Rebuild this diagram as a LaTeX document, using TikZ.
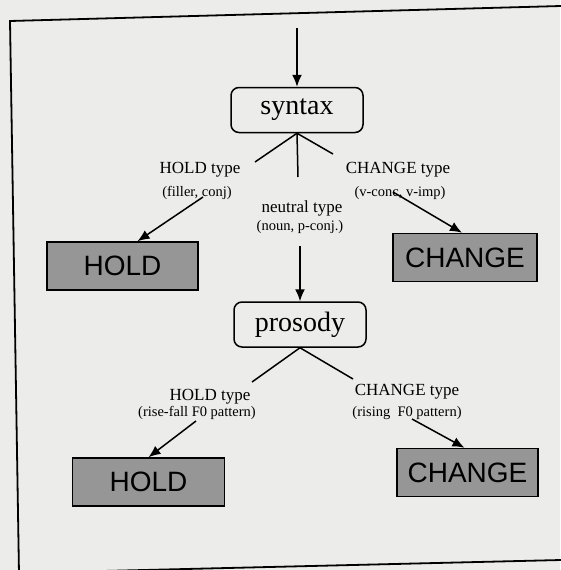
\documentclass[tikz,border=0pt]{standalone}
\usepackage{fontspec}
\setmainfont{Liberation Serif}
\setsansfont{Liberation Sans}
\usetikzlibrary{arrows.meta}
\definecolor{paper}{RGB}{236,236,234}
\definecolor{boxgray}{RGB}{150,150,150}
\begin{document}
\begin{tikzpicture}[x=1pt, y=-1pt, line width=1.5pt,
  levelbox/.style={draw, rounded corners=8pt, minimum width=132pt, minimum height=45pt, inner sep=0pt, font=\fontsize{28}{30}\selectfont},
  resultbox/.style={draw, fill=boxgray, minimum height=48pt, inner sep=0pt, font=\sffamily\fontsize{28}{30}\selectfont},
  typelabel/.style={inner sep=0pt, font=\fontsize{17}{19}\selectfont},
  notelabel/.style={inner sep=0pt, font=\fontsize{14.5}{16}\selectfont},
  arr/.style={-{Latex[length=12pt, width=10pt]}}]
\fill[paper] (0,0) rectangle (560,570);
\useasboundingbox (0,0) rectangle (560,570);
% Frame
\draw[line width=1.8pt] (561,6) -- (10,21) -- (19,574);
\draw[line width=1.8pt] (19,573) -- (561,560);
% Syntax level
\coordinate (in) at (297,28);
\node[levelbox] (syntax) at (297,110) {syntax};
\draw[arr] (in) -- (syntax.north);
\coordinate (sl) at (255,162); \coordinate (sm) at (298,177); \coordinate (sr) at (333,154);
\draw (syntax.south) -- (sl); \draw (syntax.south) -- (sm); \draw (syntax.south) -- (sr);
\node[typelabel] (holdt1) at (200,170) {HOLD type};
\node[notelabel] (holdn1) at (197,193) {(filler, conj)};
\node[typelabel] (neutt) at (302,208) {neutral type};
\node[notelabel] (neutn) at (300,227) {(noun, p-conj.)};
\node[typelabel] (changet1) at (398,170) {CHANGE type};
\node[notelabel] (changen1) at (400,193) {(v-conc, v-imp)};
\node[resultbox, minimum width=151pt] (hold1) at (122.5,266) {HOLD};
\node[resultbox, minimum width=144pt] (change1) at (465,257.5) {CHANGE};
\coordinate (h1) at (203,197); \coordinate (c1) at (393,192); \coordinate (n1) at (300,246);
\draw[arr] (h1) -- ([xshift=15pt]hold1.north);
\draw[arr] (c1) -- ([xshift=-3pt]change1.north);
% Prosody level
\node[levelbox] (prosody) at (300,324.5) {prosody};
\draw[arr] (n1) -- (prosody.north);
\coordinate (pl) at (252,382); \coordinate (pr) at (353,379);
\draw (prosody.south) -- (pl); \draw (prosody.south) -- (pr);
\node[typelabel] (holdt2) at (210,397) {HOLD type};
\node[notelabel] (holdn2) at (197,413) {(rise-fall F0 pattern)};
\node[typelabel] (changet2) at (407,392) {CHANGE type};
\node[notelabel] (changen2) at (407,413) {(rising\ \ F0 pattern)};
\node[resultbox, minimum width=152pt] (hold2) at (148.5,482) {HOLD};
\node[resultbox, minimum width=141pt] (change2) at (467.5,472.5) {CHANGE};
\coordinate (h2) at (196,421); \coordinate (c2) at (412,419);
\draw[arr] (h2) -- (hold2.north);
\draw[arr] (c2) -- ([xshift=-3pt]change2.north);
\end{tikzpicture}
\end{document}
